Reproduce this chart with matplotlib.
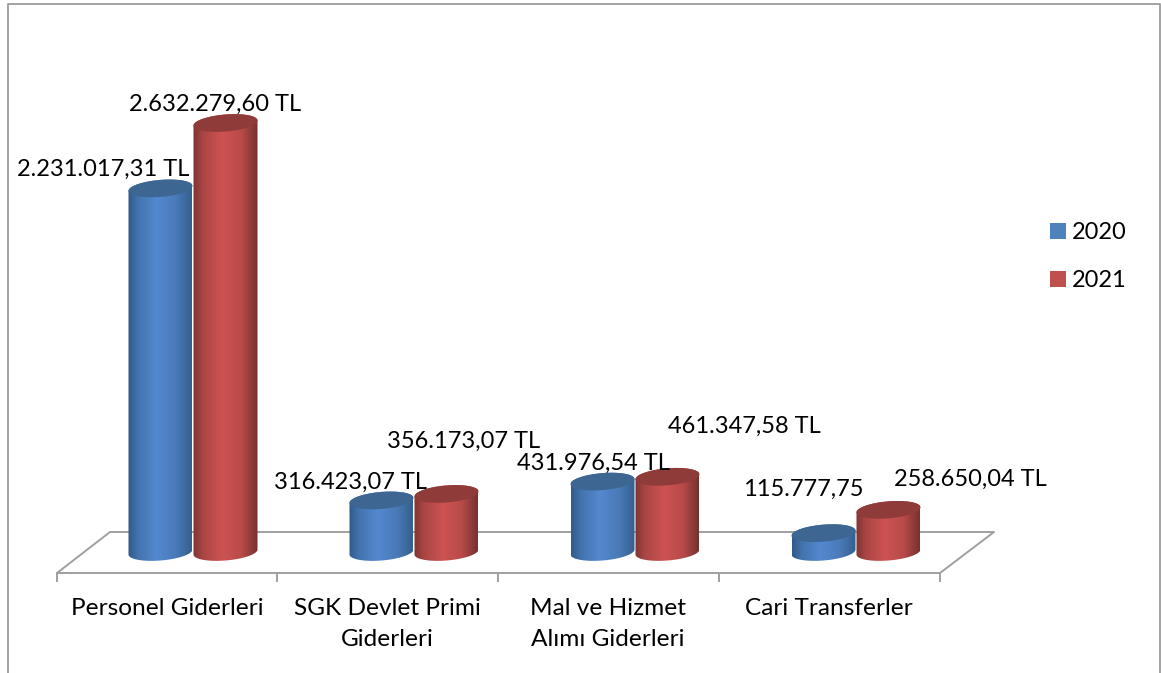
import matplotlib
matplotlib.use('Agg')
import matplotlib.pyplot as plt
import numpy as np
from matplotlib.colors import LinearSegmentedColormap
from matplotlib.patches import Patch, PathPatch, Polygon
from matplotlib.path import Path
from matplotlib.transforms import Affine2D

plt.rcParams['font.family'] = ['Lato', 'DejaVu Sans']

# Data
categories = ['Personel Giderleri', 'SGK Devlet Primi\nGiderleri',
              'Mal ve Hizmet\nAlımı Giderleri', 'Cari Transferler']
years = ['2020', '2021']
values_2020 = [2231017.31, 316423.07, 431976.54, 115777.75]
values_2021 = [2632279.60, 356173.07, 461347.58, 258650.04]
labels_2020 = ['2.231.017,31 TL', '316.423,07 TL', '431.976,54 TL', '115.777,75']
labels_2021 = ['2.632.279,60 TL', '356.173,07 TL', '461.347,58 TL', '258.650,04 TL']

# Layout, all in reference pixels
W, H = 1161, 673
GROUP_W = 221
FIRST_X = 192.5
BASE_Y = 552
PX_PER_TL = 429 / 2632279.6
HALF_W = 32
ELL_B = 8.5
ELL_TILT = -2.5
FS = 17

fig = plt.figure(figsize=(W / 100, H / 100), dpi=100)
ax = fig.add_axes([0, 0, 1, 1])
px = Affine2D().scale(1, -1).translate(0, H)  # top-left pixel coordinates


def ellipse_offsets(t):
    return HALF_W * np.cos(t), ELL_B * np.sin(t) + ELL_TILT * np.cos(t)


def to_data(cx, val, dx, dy):
    return cx + dx / GROUP_W, val - dy / PX_PER_TL


def draw_cylinder(cx, val, cmap, top_color):
    # lower arc of the base, then far arc of the lid
    t1 = np.linspace(np.pi, 0, 50)
    dx1, dy1 = ellipse_offsets(t1)
    t2 = np.linspace(0, -np.pi, 50)
    dx2, dy2 = ellipse_offsets(t2)
    xs1, ys1 = to_data(cx, 0, dx1, dy1)
    xs2, ys2 = to_data(cx, val, dx2, dy2)
    verts = np.column_stack([np.r_[xs1, xs2], np.r_[ys1, ys2]])
    body = PathPatch(Path(np.vstack([verts, verts[0]]), closed=True),
                     transform=ax.transData, fc='none', ec='none')
    ax.add_patch(body)
    grad = np.linspace(0, 1, 128).reshape(1, -1)
    extent = [cx - HALF_W / GROUP_W, cx + HALF_W / GROUP_W,
              -20 / PX_PER_TL, val + 20 / PX_PER_TL]
    im = ax.imshow(grad, cmap=cmap, extent=extent, aspect='auto', zorder=3,
                   interpolation='bilinear')
    im.set_clip_path(body)
    # lid
    t = np.linspace(0, 2 * np.pi, 100)
    dx, dy = ellipse_offsets(t)
    xs, ys = to_data(cx, val, dx, dy)
    ax.add_patch(Polygon(np.column_stack([xs, ys]), closed=True, fc=top_color,
                         ec='none', zorder=3.1))


blue_cmap = LinearSegmentedColormap.from_list(
    'blue_cyl', [(0, '#315a88'), (0.15, '#4273ad'), (0.45, '#5489cf'),
                 (0.75, '#4a7ab8'), (1, '#34608f')])
red_cmap = LinearSegmentedColormap.from_list(
    'red_cyl', [(0, '#7d3533'), (0.15, '#a94544'), (0.45, '#cd5352'),
                (0.75, '#b84b49'), (1, '#753130')])

# Floor of the 3D plot
floor_x = [57, 940, 994, 110, 57]
floor_y = [573, 573, 532, 532, 573]
ax.plot(floor_x, floor_y, color='#a0a0a0', lw=1.4, transform=px, zorder=1)
for tx in [57, 277, 498, 719, 940]:
    ax.plot([tx, tx], [573, 581], color='#a0a0a0', lw=1.4, transform=px, zorder=1)

# Frame, cut by the bottom edge
ax.plot([8, 8, 1160, 1160], [H, 4, 4, H], color='#a3a3a3', lw=1.4, transform=px, zorder=1)

for i in range(len(categories)):
    draw_cylinder(i - 32 / GROUP_W, values_2020[i], blue_cmap, '#3d6693')
    draw_cylinder(i + 33 / GROUP_W, values_2021[i], red_cmap, '#8f3b3a')

ax.set_xlim(-FIRST_X / GROUP_W, (W - FIRST_X) / GROUP_W)
ax.set_ylim((BASE_Y - H) / PX_PER_TL, BASE_Y / PX_PER_TL)
ax.axis('off')

# Data labels, placed by hand like in the original
pos_2020 = [(103, 169), (351, 482), (593, 463), (803, 489)]
pos_2021 = [(215, 104), (464, 441), (744, 426), (970, 479)]
for labels, positions in [(labels_2020, pos_2020), (labels_2021, pos_2021)]:
    for s, (x, y) in zip(labels, positions):
        ax.text(x, y, s, transform=px, ha='center', va='center', fontsize=FS,
                color='black', zorder=5)

# Category labels
label_x = [167, 387, 608, 829]
for s, x in zip(categories, label_x):
    ax.text(x, 598, s, transform=px, ha='center', va='top', fontsize=17.6,
            color='black', linespacing=1.6, zorder=5)

handles = [Patch(fc='#4f81bd', ec='none'), Patch(fc='#c0504d', ec='none')]
ax.legend(handles, years, loc='upper left', bbox_to_anchor=(1050 / W, 1 - 222 / H),
          frameon=False, fontsize=FS, handlelength=0.66, handleheight=0.66,
          handletextpad=0.27, labelspacing=1.15, borderpad=0, borderaxespad=0)

fig.savefig('out.png', dpi=100)
